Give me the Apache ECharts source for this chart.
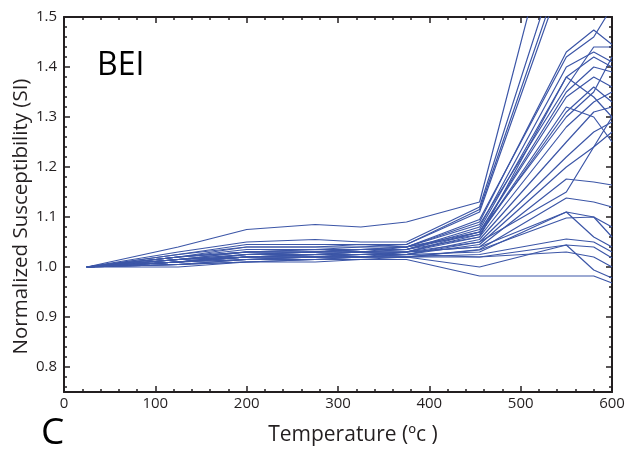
<!DOCTYPE html>
<html><head><meta charset="utf-8">
<script src="https://cdn.jsdelivr.net/npm/echarts@6/dist/echarts.min.js"></script>
<style>html,body{margin:0;padding:0;background:#fff}#c{width:626px;height:449px}</style>
</head><body><div id="c"></div>
<script>
const temperatures = [25,125,200,275,325,375,455,550,580,600];
const s01 = [1.00,1.040,1.075,1.085,1.080,1.090,1.130,1.80,1.95,2.00];
const s02 = [1.00,1.030,1.050,1.055,1.050,1.050,1.120,1.66,1.80,1.85];
const s03 = [1.00,1.025,1.045,1.045,1.045,1.045,1.115,1.62,1.75,1.80];
const s04 = [1.00,1.025,1.040,1.040,1.040,1.045,1.110,1.60,1.72,1.78];
const s05 = [1.00,1.020,1.035,1.035,1.040,1.040,1.090,1.43,1.474,1.445];
const s06 = [1.00,1.020,1.030,1.035,1.035,1.040,1.085,1.36,1.44,1.44];
const s07 = [1.00,1.015,1.030,1.030,1.035,1.035,1.080,1.40,1.43,1.41];
const s08 = [1.00,1.020,1.030,1.030,1.030,1.035,1.075,1.38,1.42,1.40];
const s09 = [1.00,1.015,1.025,1.030,1.030,1.030,1.070,1.35,1.40,1.39];
const s10 = [1.00,1.020,1.030,1.030,1.035,1.035,1.070,1.34,1.38,1.36];
const s11 = [1.00,1.015,1.025,1.025,1.030,1.030,1.065,1.31,1.36,1.33];
const s12 = [1.00,1.010,1.025,1.030,1.030,1.035,1.060,1.38,1.34,1.30];
const s13 = [1.00,1.015,1.020,1.025,1.025,1.030,1.060,1.28,1.33,1.35];
const s14 = [1.00,1.010,1.020,1.025,1.030,1.025,1.055,1.25,1.31,1.32];
const s15 = [1.00,1.010,1.020,1.020,1.025,1.025,1.050,1.22,1.27,1.29];
const s16 = [1.00,1.010,1.015,1.020,1.020,1.025,1.045,1.20,1.24,1.27];
const s17 = [1.00,1.015,1.020,1.020,1.025,1.030,1.040,1.176,1.17,1.164];
const s18 = [1.00,1.010,1.020,1.025,1.020,1.020,1.035,1.138,1.13,1.12];
const s19 = [1.00,1.010,1.020,1.020,1.020,1.025,1.030,1.110,1.10,1.08];
const s20 = [1.00,1.010,1.015,1.020,1.020,1.020,1.034,1.098,1.10,1.06];
const s21 = [1.00,1.005,1.015,1.015,1.020,1.020,1.025,1.056,1.05,1.03];
const s22 = [1.00,1.005,1.010,1.015,1.020,1.020,1.020,1.044,1.04,1.018];
const s23 = [1.00,1.005,1.010,1.015,1.015,1.020,1.000,1.044,0.994,0.978];
const s24 = [1.00,1.000,1.010,1.010,1.015,1.015,0.982,0.982,0.982,0.968];
const s25 = [1.00,1.005,1.015,1.020,1.020,1.025,1.020,1.030,1.020,1.000];
const s26 = [1.00,1.010,1.020,1.025,1.030,1.030,1.040,1.110,1.060,1.040];
const s27 = [1.00,1.020,1.040,1.040,1.045,1.040,1.095,1.42,1.46,1.52];
const s28 = [1.00,1.015,1.030,1.035,1.030,1.040,1.070,1.30,1.35,1.42];
const s29 = [1.00,1.010,1.025,1.030,1.035,1.040,1.065,1.32,1.30,1.25];
const s30 = [1.00,1.010,1.020,1.020,1.020,1.030,1.050,1.15,1.24,1.30];
const allSeries = [s01,s02,s03,s04,s05,s06,s07,s08,s09,s10,s11,s12,s13,s14,s15,
                   s16,s17,s18,s19,s20,s21,s22,s23,s24,s25,s26,s27,s28,s29,s30];
const yMajor = [0.8,0.9,1.0,1.1,1.2,1.3,1.4,1.5];
const yMinor = [];
for (let i = 38; i <= 75; i++) yMinor.push(+(i*0.02).toFixed(2));

const ink = '#231f20';
const font = 'Open Sans';
const chart = echarts.init(document.getElementById('c'));
const yBase = {type:'value', min:0.75, max:1.5, splitLine:{show:false}};
chart.setOption({
  animation:false,
  grid:{left:64, right:14, top:17, bottom:57, containLabel:false, outerBoundsMode:'none'},
  xAxis:[
    {type:'value', min:0, max:600, interval:100, position:'bottom',
     axisLine:{lineStyle:{color:ink,width:2}},
     axisTick:{inside:true,length:6,lineStyle:{color:ink,width:1.5}},
     minorTick:{show:true,splitNumber:5,length:3,lineStyle:{color:ink,width:1.5}},
     splitLine:{show:false},
     axisLabel:{color:ink,fontFamily:font,fontSize:15,margin:4},
     name:'Temperature (ºc )', nameLocation:'middle', nameGap:33, nameMoveOverlap:false,
     nameTextStyle:{color:ink,fontFamily:font,fontSize:21,padding:[0,0,0,30]}},
    {type:'value', min:0, max:600, interval:100, position:'top',
     axisLine:{lineStyle:{color:ink,width:2}},
     axisTick:{inside:true,length:6,lineStyle:{color:ink,width:1.5}},
     minorTick:{show:true,splitNumber:5,length:3,lineStyle:{color:ink,width:1.5}},
     splitLine:{show:false}, axisLabel:{show:false}}
  ],
  yAxis:[
    Object.assign({}, yBase, {position:'left',
     axisLine:{lineStyle:{color:ink,width:2}},
     axisTick:{inside:true,length:6,customValues:yMajor,lineStyle:{color:ink,width:1.5}},
     axisLabel:{color:ink,fontFamily:font,fontSize:15,margin:7,customValues:yMajor,
       formatter:v=>v.toFixed(1)},
     name:'Normalized Susceptibility (SI)', nameLocation:'middle', nameGap:32, nameMoveOverlap:false,
     nameTextStyle:{color:ink,fontFamily:font,fontSize:20.5,padding:[0,24,0,0]}}),
    Object.assign({}, yBase, {position:'left',
     axisLine:{show:false},
     axisTick:{inside:true,length:3,customValues:yMinor,lineStyle:{color:ink,width:1.5}},
     axisLabel:{show:false}}),
    Object.assign({}, yBase, {position:'right',
     axisLine:{lineStyle:{color:ink,width:2}},
     axisTick:{inside:true,length:6,customValues:yMajor,lineStyle:{color:ink,width:1.5}},
     axisLabel:{show:false}}),
    Object.assign({}, yBase, {position:'right',
     axisLine:{show:false},
     axisTick:{inside:true,length:3,customValues:yMinor,lineStyle:{color:ink,width:1.5}},
     axisLabel:{show:false}})
  ],
  graphic:[
    {type:'text', left:97, top:50, style:{text:'BEI', fontFamily:font, fontSize:32, fill:'#000'}},
    {type:'text', left:41, top:415, style:{text:'C', fontFamily:font, fontSize:37, fill:'#000'}}
  ],
  series: allSeries.map((s,i)=>({
    type:'line', name:'S'+(i+1), showSymbol:false, symbol:'none', clip:true,
    lineStyle:{color:'#3c56a7', width:1.2},
    data: temperatures.map((t,j)=>[t,s[j]])
  }))
});
</script></body></html>
